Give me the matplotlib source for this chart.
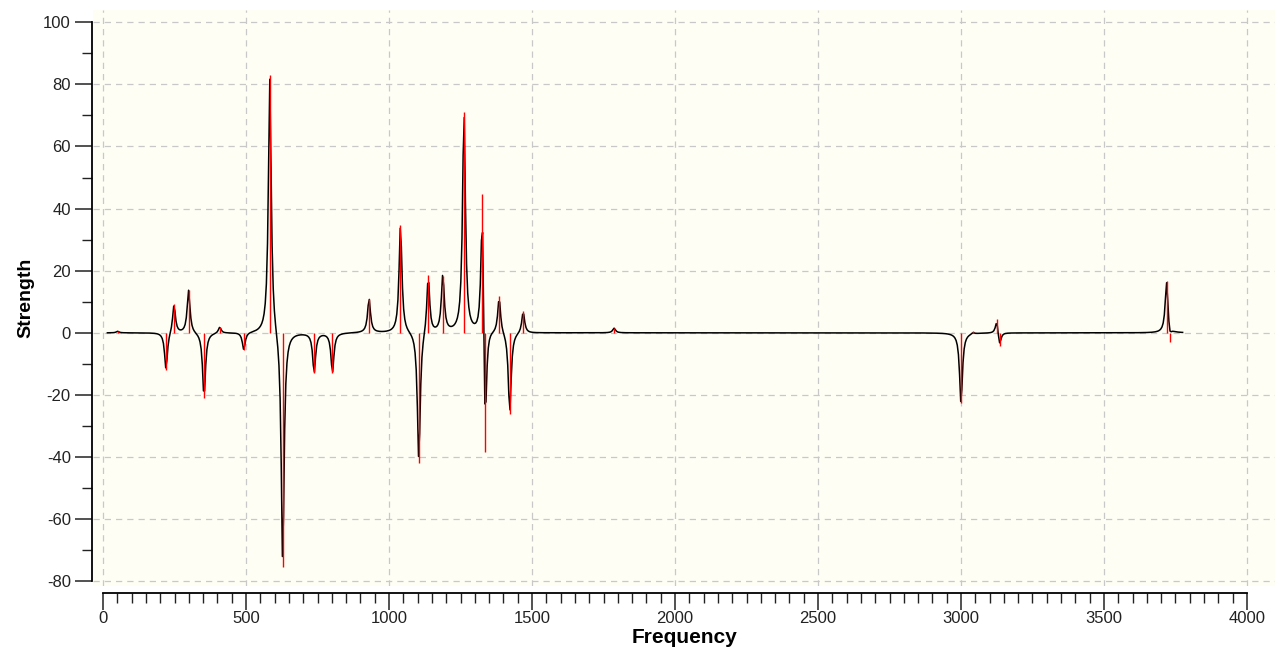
import numpy as np
import matplotlib
matplotlib.use("Agg")
import matplotlib.pyplot as plt
from matplotlib.ticker import FixedLocator

plt.rcParams['font.family'] = ['Liberation Sans', 'DejaVu Sans']
plt.rcParams['axes.unicode_minus'] = False

# stick positions (frequency) and strengths
freqs = [51, 220, 248, 299, 353, 408, 492, 583, 628, 738, 802, 930, 1040, 1104,
         1137, 1188, 1262, 1326, 1336, 1385, 1422, 1469, 1787,
         3000, 3042, 3125, 3135, 3719, 3730]
strengths = [0.5, -12, 9.3, 13.9, -21, 2, -5.6, 83, -75.5, -12.8, -12.8, 11, 34.8, -42,
             18.7, 18.4, 71, 44.6, -38.2, 11.7, -26, 7, 1.5,
             -22.7, 0.5, 4.3, -4.3, 16.8, -2.9]

# broadened spectrum (Lorentzian, half width ~6) on a coarse grid
hwhm = 6.0
grid = np.arange(15, 3776, 4.0)
f = np.array(freqs)[:, None]
s = np.array(strengths)[:, None]
curve = (s * hwhm**2 / ((grid[None, :] - f)**2 + hwhm**2)).sum(axis=0)

fig = plt.figure(figsize=(12.75, 6.49), dpi=100)
ax = fig.add_axes([0.073, 0.097, 0.927, 0.888])
ax.set_facecolor('#fffef5')

ax.plot(grid, curve, color='black', lw=1.1, zorder=3)
ax.vlines(freqs, 0, strengths, color='red', lw=1.0, zorder=4)

ax.set_xlim(-35, 4098)
ax.set_ylim(-81.5, 104)

ax.xaxis.set_major_locator(FixedLocator(np.arange(0, 4001, 500)))
ax.xaxis.set_minor_locator(FixedLocator(np.arange(0, 4001, 50)))
ax.yaxis.set_major_locator(FixedLocator(np.arange(-80, 101, 20)))
ax.yaxis.set_minor_locator(FixedLocator(np.arange(-80, 101, 10)))

ax.grid(True, which='major', color='#c8c8c8', ls=(0, (5, 4)), lw=0.9)
ax.set_axisbelow(True)

for side in ['top', 'right']:
    ax.spines[side].set_visible(False)
ax.spines['left'].set_position(('outward', 1))
ax.spines['bottom'].set_position(('outward', 5))
ax.spines['left'].set_bounds(-80, 100)
ax.spines['bottom'].set_bounds(0, 4000)
ax.spines['left'].set_linewidth(1.3)
ax.spines['bottom'].set_linewidth(1.3)

ax.tick_params(axis='both', which='major', direction='out', length=12, width=1.1,
               labelsize=12, colors='#222222', pad=3)
ax.tick_params(axis='x', which='major', pad=1)
ax.tick_params(axis='both', which='minor', direction='out', length=7, width=1.0,
               colors='#222222')

ax.set_xlabel('Frequency', fontsize=15, fontweight='bold')
ax.xaxis.set_label_coords(0.5, -0.072)
ax.set_ylabel('Strength', fontsize=14, fontweight='bold', labelpad=6)

fig.savefig('out.png', dpi=100)
